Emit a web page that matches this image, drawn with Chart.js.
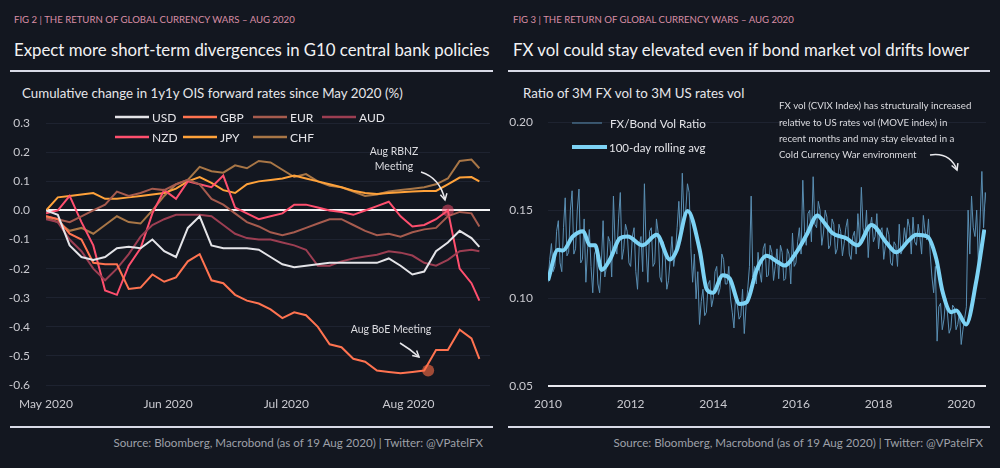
<!DOCTYPE html>
<html>
<head>
<meta charset="utf-8">
<script src="https://cdn.jsdelivr.net/npm/chart.js@4.4.0/dist/chart.umd.min.js"></script>
<style>
  html, body { margin: 0; padding: 0; background: #131720; }
  body { width: 1000px; height: 468px; position: relative; overflow: hidden; font-family: Lato, "Noto Sans", sans-serif; }
  .fig { position: absolute; top: 14px; font-size: 9.6px; line-height: 12px; color: #d98ea5; white-space: nowrap; }
  .title { position: absolute; top: 39px; font-size: 16.8px; line-height: 22px; color: #f2f2f4; white-space: nowrap; }
  .rule { position: absolute; height: 2px; background: #d8dae6; }
  .sub { position: absolute; top: 85px; font-size: 13.3px; line-height: 16px; color: #e6e6ea; white-space: nowrap; }
  .src { position: absolute; top: 436px; font-size: 11.6px; line-height: 14px; color: #9ea0a8; white-space: nowrap; text-align: right; }
  canvas { position: absolute; top: 100px; }
</style>
</head>
<body>
<div class="fig" style="left:14px">FIG 2 | THE RETURN OF GLOBAL CURRENCY WARS – AUG 2020</div>
<div class="title" style="left:14px">Expect more short-term divergences in G10 central bank policies</div>
<div class="rule" style="left:10px; top:70px; width:483px"></div>
<div class="sub" style="left:22px">Cumulative change in 1y1y OIS forward rates since May 2020 (%)</div>
<canvas id="leftChart" width="500" height="320" style="left:0px"></canvas>
<div class="rule" style="left:10px; top:426px; width:483px"></div>
<div class="src" style="right:517px">Source: Bloomberg, Macrobond (as of 19 Aug 2020) | Twitter: @VPatelFX</div>

<div class="fig" style="left:513px">FIG 3 | THE RETURN OF GLOBAL CURRENCY WARS – AUG 2020</div>
<div class="title" style="left:513px">FX vol could stay elevated even if bond market vol drifts lower</div>
<div class="rule" style="left:508px; top:70px; width:482px"></div>
<div class="sub" style="left:523px">Ratio of 3M FX vol to 3M US rates vol</div>
<canvas id="rightChart" width="500" height="320" style="left:500px"></canvas>
<div class="rule" style="left:508px; top:426px; width:482px"></div>
<div class="src" style="right:17px">Source: Bloomberg, Macrobond (as of 19 Aug 2020) | Twitter: @VPatelFX</div>

<script>
// ---- Fig 2 data: days since 1 May 2020, change in %
const days = [0,3,6,9,12,15,18,21,24,27,30,33,36,39,42,45,48,51,54,57,60,63,66,69,72,75,78,81,84,87,90,93,96,99,102,105,108,110];
const usd = [0,-0.015,-0.12,-0.16,-0.17,-0.16,-0.13,-0.125,-0.13,-0.10, -0.14,-0.16,-0.06,-0.02,-0.12,-0.13,-0.13,-0.13,-0.135,-0.16, -0.185,-0.195,-0.19,-0.185,-0.18,-0.18,-0.18,-0.18,-0.18,-0.165, -0.19,-0.22,-0.21,-0.14,-0.11,-0.07,-0.095,-0.125];
const gbp = [-0.02,-0.03,-0.08,-0.10,-0.18,-0.185,-0.185,-0.27,-0.265,-0.22, -0.245,-0.23,-0.175,-0.15,-0.24,-0.25,-0.29,-0.31,-0.32,-0.34, -0.37,-0.35,-0.36,-0.40,-0.46,-0.47,-0.51,-0.52,-0.55,-0.555, -0.56,-0.555,-0.55,-0.48,-0.48,-0.41,-0.44,-0.51];
const eur = [-0.02,-0.03,-0.04,-0.02,0.0,0.02,0.065,0.05,0.06,0.075, 0.07,0.09,0.105,0.09,0.04,0.02,-0.01,-0.04,-0.055,-0.075, -0.085,-0.075,-0.06,-0.045,-0.03,-0.03,-0.05,-0.07,-0.085,-0.08, -0.09,-0.075,-0.065,-0.06,-0.02,-0.005,-0.01,-0.055];
const aud = [-0.03,-0.04,-0.10,-0.14,-0.20,-0.24,-0.20,-0.15,-0.09,-0.05, -0.03,-0.015,-0.015,-0.015,-0.02,-0.05,-0.08,-0.095,-0.10,-0.10, -0.11,-0.12,-0.135,-0.19,-0.19,-0.175,-0.165,-0.158,-0.152,-0.14, -0.145,-0.155,-0.18,-0.19,-0.17,-0.14,-0.135,-0.14];
const nzd = [-0.01,0.0,0.05,-0.04,-0.12,-0.275,-0.29,-0.19,-0.13,-0.01, 0.07,0.04,0.10,0.09,0.08,0.12,0.01,-0.01,-0.03,-0.02, -0.01,0.02,0.02,0.01,0.0,-0.005,-0.015,0.0,0.015,0.03, -0.02,-0.055,-0.05,-0.03,0.0,-0.2,-0.25,-0.31];
const jpy = [0,0.045,0.05,0.055,0.06,0.04,0.04,0.045,0.05,0.055, 0.06,0.075,0.10,0.115,0.095,0.07,0.06,0.09,0.10,0.105, 0.11,0.12,0.11,0.10,0.09,0.08,0.068,0.06,0.057,0.06, 0.063,0.065,0.067,0.067,0.09,0.113,0.115,0.10];
const chf = [-0.025,-0.04,-0.07,-0.06,-0.08,-0.05,-0.02,-0.04,-0.045,0.0, 0.05,0.09,0.105,0.15,0.135,0.13,0.155,0.145,0.17,0.165, 0.14,0.115,0.125,0.10,0.085,0.08,0.065,0.05,0.055,0.065, 0.07,0.075,0.08,0.09,0.11,0.17,0.175,0.145];
const monthStarts = [0, 31, 61, 92];
const monthLabels = ['May 2020', 'Jun 2020', 'Jul 2020', 'Aug 2020'];
const meetingDays = [97, 102];          // Aug BoE, Aug RBNZ
const meetingValues = [-0.55, 0.0];

// ---- Fig 3 data: twice-monthly FX/bond vol ratio from Jan 2010, and the rolling average
const ratioStart = 2010;
const volRatio = [
  0.109,0.122,0.131,0.115,0.118,0.138,0.144,0.120,0.115,0.140,0.157,0.124,0.126,0.150,0.161,0.125,0.128,0.150,0.162,0.120,0.122,0.145,0.109,0.128,
  0.139,0.118,0.103,0.125,0.128,0.108,0.103,0.120,0.144,0.112,0.118,0.135,0.132,0.112,0.158,0.130,0.125,0.145,0.160,0.122,0.128,0.142,0.138,0.120,
  0.118,0.135,0.140,0.115,0.105,0.130,0.135,0.115,0.165,0.128,0.109,0.138,0.140,0.118,0.120,0.145,0.137,0.112,0.109,0.132,0.125,0.105,0.110,0.122,
  0.135,0.118,0.125,0.140,0.155,0.132,0.171,0.145,0.150,0.165,0.160,0.128,0.109,0.125,0.0995,0.115,0.085,0.098,0.105,0.090,0.092,0.108,0.110,0.095,
  0.100,0.115,0.118,0.102,0.106,0.125,0.122,0.108,0.108,0.118,0.100,0.092,0.083,0.102,0.096,0.088,0.090,0.105,0.0798,0.095,0.105,0.118,0.158,0.112,
  0.118,0.108,0.126,0.115,0.109,0.128,0.131,0.112,0.113,0.130,0.126,0.110,0.118,0.128,0.111,0.130,0.126,0.110,0.111,0.128,0.125,0.108,0.137,0.118,
  0.120,0.132,0.140,0.125,0.167,0.138,0.130,0.148,0.150,0.132,0.169,0.142,0.140,0.155,0.150,0.130,0.137,0.150,0.146,0.128,0.130,0.145,0.142,0.125,
  0.128,0.142,0.138,0.124,0.131,0.140,0.145,0.125,0.122,0.135,0.138,0.125,0.148,0.132,0.163,0.140,0.135,0.150,0.123,0.140,0.146,0.132,0.135,0.148,
  0.128,0.138,0.140,0.122,0.130,0.140,0.136,0.120,0.1185,0.132,0.130,0.118,0.142,0.125,0.128,0.140,0.132,0.145,0.140,0.125,0.146,0.132,0.130,0.142,
  0.135,0.125,0.147,0.138,0.133,0.145,0.125,0.112,0.103,0.118,0.0755,0.095,0.097,0.082,0.088,0.100,0.0915,0.080,0.083,0.096,0.0945,0.082,0.085,0.092,
  0.0736,0.082,0.0885,0.095,0.150,0.125,0.158,0.140,0.135,0.150,0.118,0.145,0.172,0.140,0.160,0.150];
const avgYears = [2010.0,2010.24,2010.36,2010.6,2010.85,2011.01,2011.14,2011.3,2011.5,2011.74,2011.93,2012.29,2012.63,2012.95,2013.12,2013.38,2013.67,2013.84,2013.99,2014.23,2014.4,2014.64,2014.81,2015.05,2015.29,2015.53,2015.72,2016.01,2016.26,2016.52,2016.69,2016.88,2017.22,2017.49,2017.83,2018.19,2018.43,2018.74,2018.91,2019.18,2019.4,2019.54,2019.76,2019.88,2020.12,2020.36,2020.56];
const avgValues = [0.110,0.1275,0.127,0.135,0.138,0.130,0.130,0.116,0.122,0.134,0.135,0.130,0.136,0.122,0.1275,0.1495,0.1275,0.105,0.103,0.113,0.111,0.0966,0.0977,0.116,0.124,0.121,0.1185,0.126,0.136,0.147,0.1427,0.137,0.134,0.130,0.1416,0.1315,0.126,0.133,0.136,0.135,0.122,0.1045,0.092,0.093,0.085,0.109,0.139];
const yearTicks = [2010, 2012, 2014, 2016, 2018, 2020];

const FONT = 'Lato, "Noto Sans", sans-serif';
const tickColor = '#c9c9cf';
const gridColor = '#1e2330';

const seriesNames = ['USD', 'GBP', 'EUR', 'AUD', 'NZD', 'JPY', 'CHF'];
const seriesData = [usd, gbp, eur, aud, nzd, jpy, chf];
const seriesColors = ['#e4e4e8', '#ff7350', '#a65b4e', '#9c3e52', '#ff4f6e', '#ffa23a', '#a87646'];
const legendSpots = [[115, 17], [183, 17], [253, 17], [322, 17], [115, 37], [183, 37], [253, 37]];

function toXY(xs, ys) {
    return ys.map((v, i) => ({ x: xs[i], y: v }));
}

function drawArrow(c, x0, y0, cx, cy, x1, y1) {
    c.beginPath();
    c.moveTo(x0, y0);
    c.quadraticCurveTo(cx, cy, x1, y1);
    c.stroke();
    const a = Math.atan2(y1 - cy, x1 - cx);
    c.beginPath();
    c.moveTo(x1 - 7 * Math.cos(a - 0.5), y1 - 7 * Math.sin(a - 0.5));
    c.lineTo(x1, y1);
    c.lineTo(x1 - 7 * Math.cos(a + 0.5), y1 - 7 * Math.sin(a + 0.5));
    c.stroke();
}

const leftDecor = {
    id: 'leftDecor',
    afterDraw(chart) {
        const c = chart.ctx;
        c.save();
        c.font = '12px ' + FONT;
        c.textBaseline = 'middle';
        seriesNames.forEach((name, i) => {
            const [x, y] = legendSpots[i];
            c.strokeStyle = seriesColors[i];
            c.lineWidth = 2.5;
            c.beginPath(); c.moveTo(x, y); c.lineTo(x + 34, y); c.stroke();
            c.fillStyle = '#e4e4e8';
            c.fillText(name, x + 37, y + 1);
        });

        // meeting notes
        c.font = '10.5px ' + FONT;
        c.fillStyle = '#dcdce0';
        c.textAlign = 'center';
        c.fillText('Aug RBNZ', 394, 52);
        c.fillText('Meeting', 394, 67);
        c.fillText('Aug BoE Meeting', 391, 230);
        c.strokeStyle = '#e8e8ec';
        c.lineWidth = 1.5;
        drawArrow(c, 421, 72, 440, 78, 445, 100);
        drawArrow(c, 400, 243, 410, 249, 419, 257);
        c.restore();
    }
};

new Chart(document.getElementById('leftChart'), {
    type: 'line',
    data: {
        datasets: [
            {
                type: 'scatter',
                data: toXY(meetingDays, meetingValues),
                pointRadius: 6,
                pointHoverRadius: 6,
                backgroundColor: ['rgba(255,110,70,0.6)', 'rgba(255,80,110,0.5)'],
                borderWidth: 0
            },
            ...seriesNames.map((name, i) => ({
                label: name,
                data: toXY(days, seriesData[i]),
                borderColor: seriesColors[i],
                borderWidth: 2,
                pointRadius: 0,
                tension: 0
            }))
        ]
    },
    options: {
        responsive: false,
        animation: false,
        layout: { padding: { left: 0, right: 10, top: 17, bottom: 0 } },
        plugins: { legend: { display: false }, tooltip: { enabled: false } },
        scales: {
            x: {
                type: 'linear',
                min: 0,
                max: 112.7,
                afterBuildTicks: s => { s.ticks = monthStarts.map(v => ({ value: v })); },
                afterFit: s => { s.height = 35; },
                ticks: {
                    autoSkip: false,
                    maxRotation: 0,
                    padding: 12,
                    color: tickColor,
                    font: { family: FONT, size: 12 },
                    callback: v => monthLabels[monthStarts.indexOf(v)]
                },
                grid: { display: false, drawTicks: false },
                border: { display: false }
            },
            y: {
                min: -0.6,
                max: 0.3,
                afterFit: s => { s.width = 46; },
                ticks: {
                    stepSize: 0.1,
                    padding: 16,
                    color: tickColor,
                    font: { family: FONT, size: 12 },
                    callback: v => Math.abs(v) < 1e-9 ? '0.0' : v.toFixed(1)
                },
                grid: {
                    drawTicks: false,
                    color: ctx => Math.abs(ctx.tick.value) < 1e-9 ? '#f4f4f6' : gridColor,
                    lineWidth: ctx => Math.abs(ctx.tick.value) < 1e-9 ? 2 : 1
                },
                border: { display: false }
            }
        }
    },
    plugins: [leftDecor]
});

const rightDecor = {
    id: 'rightDecor',
    afterDraw(chart) {
        const c = chart.ctx;
        c.save();
        c.textBaseline = 'middle';
        c.strokeStyle = '#5a8fb3';
        c.lineWidth = 1;
        c.beginPath(); c.moveTo(72, 23); c.lineTo(102, 23); c.stroke();
        c.strokeStyle = '#7dd3f5';
        c.lineWidth = 4;
        c.beginPath(); c.moveTo(72, 47); c.lineTo(107, 47); c.stroke();
        c.fillStyle = '#e4e4e8';
        c.font = '11.7px ' + FONT;
        c.fillText('FX/Bond Vol Ratio', 110, 24);
        c.font = '11.5px ' + FONT;
        c.fillText('100-day rolling avg', 109, 48);

        c.font = '9.7px ' + FONT;
        c.fillStyle = '#dcdce0';
        ['FX vol (CVIX Index) has structurally increased',
         'relative to US rates vol (MOVE index) in',
         'recent months and may stay elevated in a',
         'Cold Currency War environment'].forEach((t, i) => c.fillText(t, 279, 6 + i * 16.4));
        c.strokeStyle = '#e8e8ec';
        c.lineWidth = 1.5;
        drawArrow(c, 430, 55, 450, 52, 457, 70);
        c.restore();
    }
};

new Chart(document.getElementById('rightChart'), {
    type: 'line',
    data: {
        datasets: [
            {
                label: '100-day rolling avg',
                data: toXY(avgYears, avgValues),
                borderColor: '#7dd3f5',
                borderWidth: 4,
                pointRadius: 0,
                cubicInterpolationMode: 'monotone'
            },
            {
                label: 'FX/Bond Vol Ratio',
                data: volRatio.map((v, i) => ({ x: ratioStart + i / 24, y: v })),
                borderColor: '#5a8fb3',
                borderWidth: 1,
                pointRadius: 0,
                tension: 0
            }
        ]
    },
    options: {
        responsive: false,
        animation: false,
        layout: { padding: { left: 0, right: 14, top: 18, bottom: 0 } },
        plugins: { legend: { display: false }, tooltip: { enabled: false } },
        scales: {
            x: {
                type: 'linear',
                min: 2010,
                max: 2020.6,
                afterBuildTicks: s => { s.ticks = yearTicks.map(v => ({ value: v })); },
                afterFit: s => { s.height = 34; },
                ticks: {
                    autoSkip: false,
                    maxRotation: 0,
                    padding: 11,
                    color: tickColor,
                    font: { family: FONT, size: 12 },
                    callback: v => String(v)
                },
                grid: { display: false, drawTicks: false },
                border: { display: false }
            },
            y: {
                min: 0.05,
                max: 0.20,
                afterFit: s => { s.width = 48; },
                ticks: {
                    stepSize: 0.05,
                    padding: 15,
                    color: tickColor,
                    font: { family: FONT, size: 12 },
                    callback: v => v.toFixed(2)
                },
                grid: {
                    drawTicks: false,
                    color: ctx => Math.abs(ctx.tick.value - 0.05) < 1e-9 ? '#e8e8ee' : gridColor,
                    lineWidth: ctx => Math.abs(ctx.tick.value - 0.05) < 1e-9 ? 2 : 1
                },
                border: { display: false }
            }
        }
    },
    plugins: [rightDecor]
});
</script>
</body>
</html>
